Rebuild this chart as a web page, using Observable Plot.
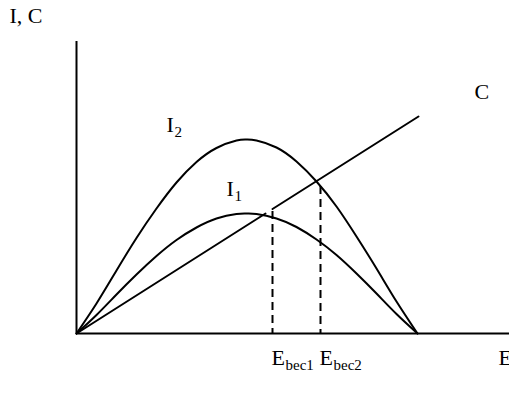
<!DOCTYPE html>
<html>
<head>
<meta charset="utf-8">
<script src="https://cdn.jsdelivr.net/npm/d3@7"></script>
<script src="https://cdn.jsdelivr.net/npm/@observablehq/plot@0.6"></script>
<style>
  html, body { margin: 0; padding: 0; background: #fff; }
</style>
</head>
<body>
<div id="chart"></div>
<script>
// Horizontal positions along E (arbitrary units)
const ePoints = [0, 20, 40, 60, 80, 100, 120, 140, 160, 170, 180, 200, 220, 240, 260, 280, 300, 320, 341];
// Curve I2 (upper curve)
const i2Values = [0, 30, 63, 95.5, 125, 151, 171.5, 185.5, 193, 194, 193, 186, 172, 152, 127, 97, 65, 32, 0];
// Curve I1 (lower curve)
const i1Values = [0, 18.5, 39, 59, 77.5, 93.5, 106, 115, 119.5, 120, 119.5, 115, 106.5, 94, 78.5, 60, 40, 19.5, 0];
// Cost line C (two pieces)
const cE = [0, 189, 196, 342];
const cValues = [0, 120, 124.5, 217];
const cPiece = ["a", "a", "b", "b"];
// Break-even points
const ebecE = [196, 244];
const ebecTop = [122, 147];
const ebecNames = ["bec1", "bec2"];

const i2 = ePoints.map((e, k) => ({e, v: i2Values[k]}));
const i1 = ePoints.map((e, k) => ({e, v: i1Values[k]}));
const cLine = cE.map((e, k) => ({e, v: cValues[k], p: cPiece[k]}));
const ebec = ebecE.map((e, k) => ({e, top: ebecTop[k], name: ebecNames[k]}));

const font = "Liberation Serif";
const big = 22, small = 15;
const txt = {textAnchor: "start", lineAnchor: "bottom", fontFamily: font, fill: "black"};

const plot = Plot.plot({
  width: 509,
  height: 398,
  marginLeft: 76,
  marginRight: 0,
  marginTop: 41,
  marginBottom: 65,
  x: {domain: [0, 433], axis: null},
  y: {domain: [0, 292], axis: null},
  marks: [
    Plot.ruleX(ebec, {x: "e", y1: "top", y2: 0, stroke: "black", strokeWidth: 2, strokeDasharray: "8,5"}),
    Plot.line(i2, {x: "e", y: "v", curve: "natural", stroke: "black", strokeWidth: 2}),
    Plot.line(i1, {x: "e", y: "v", curve: "natural", stroke: "black", strokeWidth: 2}),
    Plot.line(cLine, {x: "e", y: "v", z: "p", stroke: "black", strokeWidth: 2}),
    Plot.ruleX([0], {stroke: "black", strokeWidth: 2}),
    Plot.ruleY([0], {stroke: "black", strokeWidth: 2}),
    // axis title
    Plot.text(["I, C"], {...txt, x: -67, y: 311, text: d => d, fontSize: big}),
    // I2
    Plot.text(["I"], {...txt, x: 90, y: 202, text: d => d, fontSize: big}),
    Plot.text(["2"], {...txt, x: 98, y: 197, text: d => d, fontSize: small}),
    // I1
    Plot.text(["I"], {...txt, x: 150, y: 138, text: d => d, fontSize: big}),
    Plot.text(["1"], {...txt, x: 158, y: 133, text: d => d, fontSize: small}),
    // C
    Plot.text(["C"], {...txt, x: 398, y: 235, text: d => d, fontSize: big}),
    // E_bec labels
    Plot.text(ebec, {...txt, x: d => d.e - 1, y: -31, text: () => "E", fontSize: big}),
    Plot.text(ebec, {...txt, x: d => d.e + 13, y: -36, text: "name", fontSize: small}),
    // E axis label (cut by the right edge)
    Plot.text(["E"], {...txt, x: 422, y: -31, text: d => d, fontSize: big})
  ]
});

d3.select(plot).style("background", "white").style("overflow", "hidden");
document.getElementById("chart").append(plot);
</script>
</body>
</html>
